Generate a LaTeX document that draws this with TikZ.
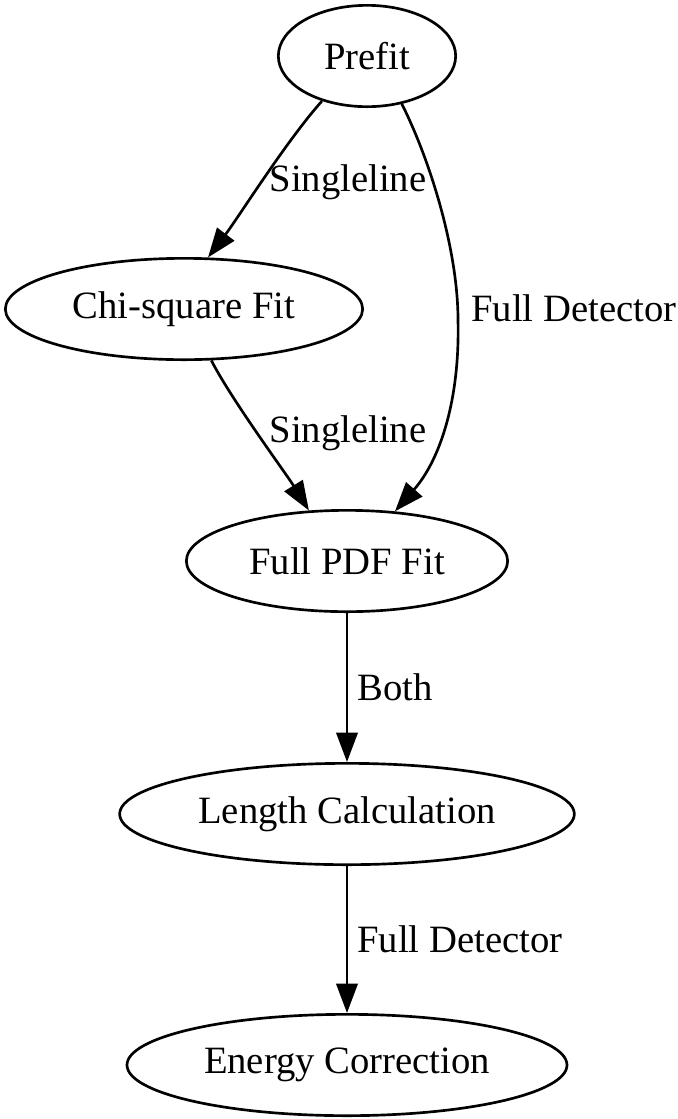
\documentclass[tikz,border=0pt]{standalone}
\usepackage{fontspec}
\setmainfont{Liberation Serif}
\usetikzlibrary{shapes.geometric, arrows.meta}

\begin{document}
\begin{tikzpicture}[x=0.375pt, y=-0.375pt, line width=1pt,
  st/.style={ellipse, draw, inner sep=0pt, minimum height=38pt, font=\fontsize{14.5}{17}\selectfont},
  lab/.style={font=\fontsize{14.5}{17}\selectfont},
  >={Triangle[length=11pt, width=8pt]}]
  \useasboundingbox (0,0) rectangle (678,1119);
  \node[st, minimum width=66.5pt] (prefit) at (367,56) {Prefit};
  \node[st, minimum width=134pt] (chi) at (184,309) {Chi-square Fit};
  \node[st, minimum width=120.5pt] (pdf) at (347,561) {Full PDF Fit};
  \node[st, minimum width=170.5pt] (len) at (347,814) {Length Calculation};
  \node[st, minimum width=165pt] (energy) at (347,1065) {Energy Correction};
  \coordinate (bend) at (458,320);
  \draw[->] (prefit.225) .. controls (287,140) and (238,218) .. (chi.65);
  \draw[->] (prefit.-54) .. controls (430,160) and (458,250) .. (bend)
    .. controls (460,400) and (440,460) .. (pdf.46);
  \draw[->] (chi.-62) .. controls (231,399) and (287,475) .. (pdf.127);
  \draw[->] (pdf) -- node[lab, right] {Both} (len);
  \draw[->] (len) -- node[lab, right] {Full Detector} (energy);
  \node[lab] (l1) at (348,182) {Singleline};
  \node[lab, anchor=west, inner xsep=0pt] (l2) at (470,308) {Full Detector};
  \node[lab] (l3) at (348,433) {Singleline};
\end{tikzpicture}
\end{document}
